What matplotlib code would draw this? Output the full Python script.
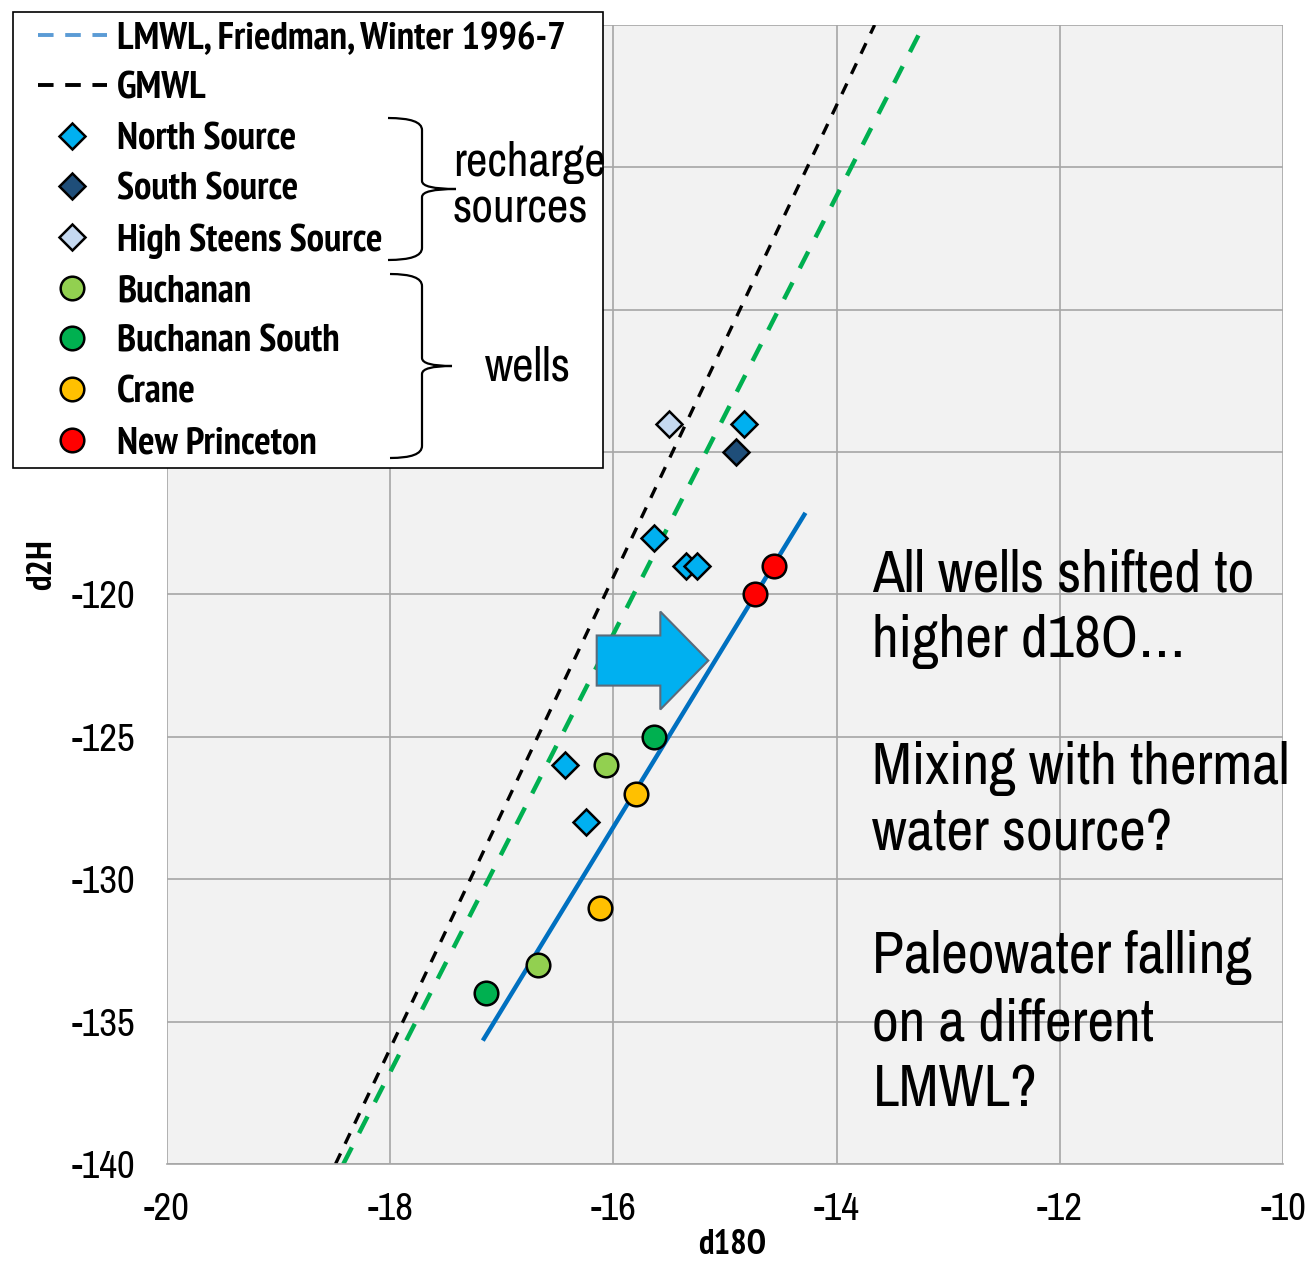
import matplotlib
matplotlib.use("Agg")
import matplotlib.pyplot as plt
from matplotlib.lines import Line2D
from matplotlib.patches import FancyArrow, PathPatch, Rectangle
from matplotlib.path import Path

plt.rcParams["font.family"] = ["Archivo Narrow", "Liberation Sans", "DejaVu Sans"]
plt.rcParams["axes.unicode_minus"] = False
BOLD_FAMILY = ["PT Sans Narrow", "Roboto Condensed", "Archivo Narrow", "DejaVu Sans"]

# ===============================
# Data
# ===============================
north_x = [-14.83, -15.64, -15.35, -15.25, -16.43, -16.25]
north_y = [-114, -118, -119, -119, -126, -128]
south_x = [-14.9]
south_y = [-115]
steens_x = [-15.5]
steens_y = [-114]
buch_x = [-16.07, -16.68]
buch_y = [-126, -133]
buch_s_x = [-15.64, -17.14]
buch_s_y = [-125, -134]
crane_x = [-15.8, -16.12]
crane_y = [-127, -131]
newp_x = [-14.56, -14.73]
newp_y = [-119, -120]

# line endpoints
gmwl_x = [-18.49, -13.66]
gmwl_y = [-140, -100]
lmwl_x = [-18.42, -13.22]
lmwl_y = [-140, -100]
shift_x = [-17.16, -14.29]
shift_y = [-135.6, -117.2]

xticks = [-20, -18, -16, -14, -12, -10]
yticks = [-140, -135, -130, -125, -120, -115, -110, -105, -100]

W, H = 1316, 1267
fig = plt.figure(figsize=(W / 100, H / 100), dpi=100)
ax = fig.add_axes([0.1269, 0.0813, 0.9750 - 0.1269, 0.9803 - 0.0813])
ax.set_facecolor("#F2F2F2")

ax.set_xlim(-20, -10)
ax.set_ylim(-140, -100)
ax.set_xticks(xticks)
ax.set_yticks(yticks)
ax.grid(True, color="#A6A6A6", lw=1.2)
ax.set_axisbelow(True)
for s in ["top", "left", "right"]:
    ax.spines[s].set_visible(False)
ax.spines["bottom"].set_color("#A6A6A6")
ax.spines["bottom"].set_linewidth(1.2)
ax.tick_params(length=0, labelsize=28)
ax.tick_params(axis="y", pad=23)
ax.tick_params(axis="x", pad=20)
ax.set_xlabel("d18O", fontsize=25, fontweight="bold", family=BOLD_FAMILY)
ax.set_ylabel("d2H", fontsize=25, fontweight="bold", family=BOLD_FAMILY)
ax.xaxis.set_label_coords((732 - 167) / 1116, -(1229 - 1164) / 1139)
ax.yaxis.set_label_coords((58 - 167) / 1116, (1164 - 565) / 1139)

# lines
ax.plot(gmwl_x, gmwl_y, color="black", lw=2.4, dashes=(3.5, 3.2), zorder=2)
ax.plot(lmwl_x, lmwl_y, color="#00B050", lw=3.2, dashes=(4.2, 3.6), zorder=2)
ax.plot(shift_x, shift_y, color="#0070C0", lw=3.2, zorder=2)

# points
mk = dict(linestyle="none", markeredgecolor="black", markeredgewidth=1.8, zorder=3)
h_north, = ax.plot(north_x, north_y, "D", ms=13, color="#00B0F0", **mk)
h_south, = ax.plot(south_x, south_y, "D", ms=13, color="#1F4E79", **mk)
h_steens, = ax.plot(steens_x, steens_y, "D", ms=13, color="#C5D9F1", **mk)
h_buch, = ax.plot(buch_x, buch_y, "o", ms=17, color="#92D050", **mk)
h_buch_s, = ax.plot(buch_s_x, buch_s_y, "o", ms=17, color="#00B050", **mk)
h_crane, = ax.plot(crane_x, crane_y, "o", ms=17, color="#FFC000", **mk)
h_newp, = ax.plot(newp_x, newp_y, "o", ms=17, color="#FF0000", **mk)

# big arrow
arrow = FancyArrow(-16.15, -122.32, 1.0, 0, width=1.76, head_width=3.44,
                   head_length=0.43, length_includes_head=True,
                   facecolor="#00B0F0", edgecolor="#5B6B7A", lw=1.5, zorder=4)
ax.add_patch(arrow)

# annotations
txt = dict(fontsize=42, ha="left", va="center", linespacing=1.28)
ax.text(-13.68, -120.5, "All wells shifted to\nhigher d18O…", **txt)
ax.text(-13.68, -127.25, "Mixing with thermal\nwater source?", **txt)
ax.text(-13.68, -135.05, "Paleowater falling\non a different\nLMWL?", **txt)

# legend frame
fig.add_artist(Rectangle((13 / W, 1 - 468 / H), 590 / W, 456 / H,
                         transform=fig.transFigure, facecolor="white",
                         edgecolor="black", lw=1.2, zorder=9))

h_lmwl_leg = Line2D([], [], color="#5B9BD5", lw=2.8, dashes=(4.0, 3.0))
h_gmwl_leg = Line2D([], [], color="black", lw=2.8, dashes=(4.0, 3.0))
handles = [h_lmwl_leg, h_gmwl_leg, h_north, h_south, h_steens,
           h_buch, h_buch_s, h_crane, h_newp]
labels = ["LMWL, Friedman, Winter 1996-7", "GMWL", "North Source",
          "South Source", "High Steens Source", "Buchanan", "Buchanan South",
          "Crane", "New Princeton"]
leg = fig.legend(handles, labels, loc="upper left",
                 bbox_to_anchor=(38 / W, 1 - 21 / H),
                 prop={"size": 28, "weight": "bold", "family": BOLD_FAMILY},
                 frameon=False, borderpad=0, labelspacing=0.395,
                 handlelength=1.77, handletextpad=0.26, markerscale=1.0,
                 borderaxespad=0)
leg.set_zorder(10)


def brace(y_top, y_bot, x0, x1, x_tip):
    # curly brace in figure pixels (origin top-left)
    ym = (y_top + y_bot) / 2
    pts = [(x0, y_top), (x1, y_top), (x1, y_top + 12),
           (x1, ym - 8), (x1, ym), (x_tip, ym),
           (x1, ym), (x1, ym + 8),
           (x1, y_bot - 12), (x1, y_bot), (x0, y_bot)]
    codes = [Path.MOVETO, Path.CURVE3, Path.CURVE3,
             Path.LINETO, Path.CURVE3, Path.CURVE3,
             Path.CURVE3, Path.CURVE3,
             Path.LINETO, Path.CURVE3, Path.CURVE3]
    pts = [(x / W, 1 - y / H) for x, y in pts]
    fig.add_artist(PathPatch(Path(pts, codes), transform=fig.transFigure,
                             fill=False, lw=1.6, color="black", zorder=11))


brace(118, 260, 388, 422, 456)
brace(274, 458, 390, 422, 452)
fig.text(453 / W, 1 - 186 / H, "recharge\nsources", fontsize=34,
         ha="left", va="center", linespacing=1.1, zorder=11)
fig.text(485 / W, 1 - 367 / H, "wells", fontsize=34,
         ha="left", va="center", zorder=11)

fig.savefig("out.png", dpi=100)
